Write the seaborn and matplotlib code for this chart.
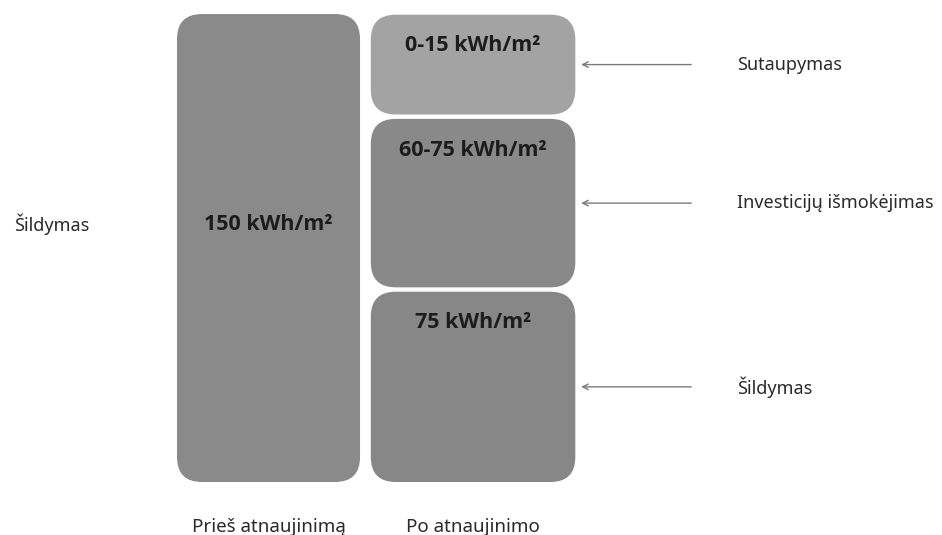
import matplotlib
matplotlib.use("Agg")
import matplotlib.pyplot as plt
from matplotlib.patches import FancyBboxPatch
import seaborn as sns
import pandas as pd

# data (box heights in units where the "before" box = 150)
stages = ["Prieš atnaujinimą", "Po atnaujinimo"]
before_heights = [150]
before_labels = ["150 kWh/m\u00b2"]
before_side = ["Šildymas"]
after_heights = [61, 54, 32]
after_labels = ["75 kWh/m\u00b2", "60-75 kWh/m\u00b2", "0-15 kWh/m\u00b2"]
after_side = ["Šildymas", "Investicijų išmokėjimas", "Sutaupymas"]
after_colors = ["#878787", "#898989", "#a3a3a3"]
before_colors = ["#8a8a8a"]

gap = 1.4
rows = []
for stage, heights, labels, sides, colors in [
    (stages[0], before_heights, before_labels, before_side, before_colors),
    (stages[1], after_heights, after_labels, after_side, after_colors),
]:
    bottom = 0
    for h, lab, side, col in zip(heights, labels, sides, colors):
        rows.append(dict(stage=stage, bottom=bottom, height=h, top=bottom + h,
                         label=lab, side=side, color=col))
        bottom += h + gap
df = pd.DataFrame(rows)

sns.set_style("white")
plt.rcParams["font.family"] = ["Noto Sans", "DejaVu Sans"]
bold_font = ["Open Sans", "DejaVu Sans"]

fig = plt.figure(figsize=(9.42, 5.35), dpi=100)
ax = fig.add_axes([0, 30 / 535, 1, 505 / 535])

sns.barplot(data=df, x="stage", y="top", order=stages, estimator="max",
            errorbar=None, width=1.0, color="#888888", ax=ax)

ax.set_xlim(-1.313, 3.293)
ax.set_ylim(-7.37, 154.5)

px_x = 204.5   # pixels per x unit
px_y = 3.12    # pixels per y unit
radius = 25 / px_x
width_scale = {stages[0]: 0.895, stages[1]: 1.0}

centers = {}
for patch, stage in zip(ax.patches, stages):
    centers[stage] = patch.get_x() + patch.get_width() / 2
    patch.set_visible(False)

for _, r in df.iterrows():
    w = width_scale[r.stage]
    cx = centers[r.stage]
    box = FancyBboxPatch((cx - w / 2, r.bottom), w, r.height,
                         boxstyle=f"round,pad=0,rounding_size={radius}",
                         mutation_aspect=px_x / px_y,
                         facecolor=r.color, edgecolor="none", zorder=2)
    ax.add_patch(box)
    if r.stage == stages[0]:
        ax.text(cx, r.bottom + r.height * 0.55, r.label, ha="center", va="center",
                fontsize=15.5, fontweight="bold", family=bold_font,
                color="#1c1c1c", zorder=3)
        ax.text(-1.245, r.bottom + r.height * 0.55, r.side, ha="left", va="center",
                fontsize=13, color="#2a2a2a")
    else:
        ax.text(cx, r.top - 10, r.label, ha="center", va="center",
                fontsize=15.5, fontweight="bold", family=bold_font,
                color="#1c1c1c", zorder=3)
        mid = r.bottom + r.height / 2
        ax.annotate("", xy=(cx + w / 2 + 0.015, mid), xytext=(cx + w / 2 + 0.58, mid),
                    arrowprops=dict(arrowstyle="->", color="#7a7a7a", lw=1.0))
        ax.text(cx + w / 2 + 0.79, mid, r.side, ha="left", va="center",
                fontsize=13, color="#2a2a2a")

ax.set_xlabel("")
ax.set_ylabel("")
ax.set_yticks([])
ax.tick_params(axis="x", length=0, pad=9, labelsize=13.5, labelcolor="#2a2a2a")
sns.despine(ax=ax, left=True, bottom=True)

fig.savefig("out.png", dpi=100)
